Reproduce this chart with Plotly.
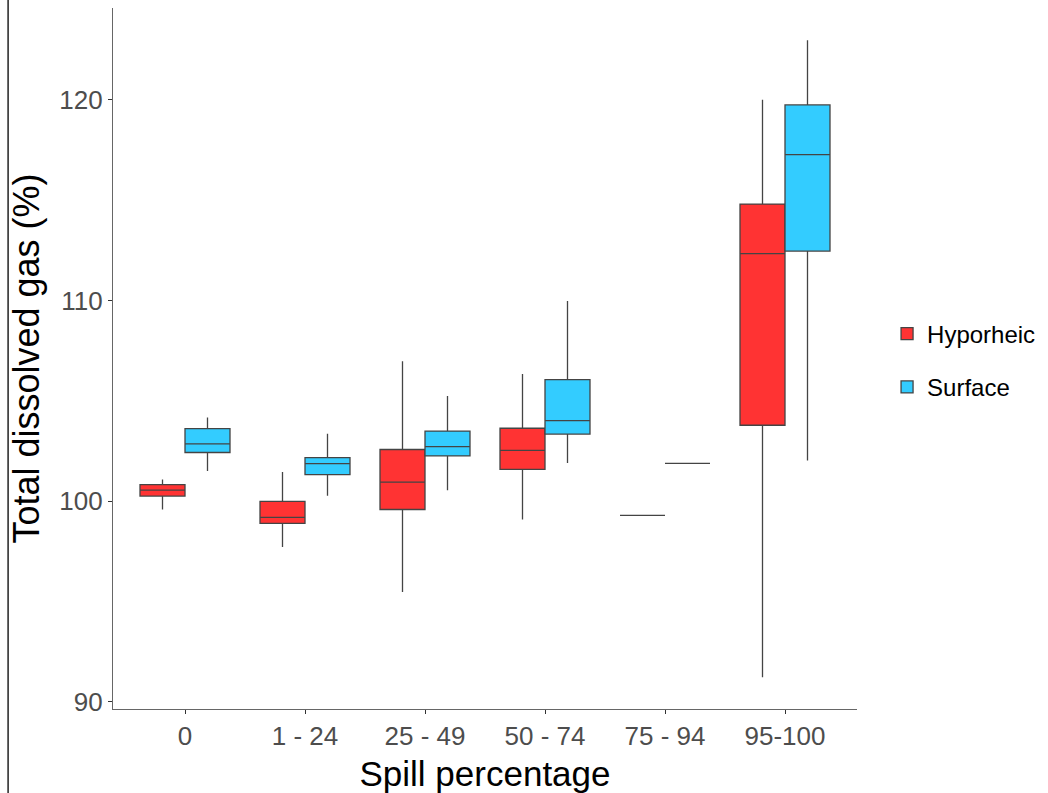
import plotly.graph_objects as go

categories = ["0", "1 - 24", "25 - 49", "50 - 74", "75 - 94", "95-100"]

hyp_low = [99.59, 97.72, 95.48, 99.09, 99.30, 91.23]
hyp_q1 = [100.26, 98.90, 99.59, 101.59, 99.30, 103.79]
hyp_med = [100.56, 99.20, 100.95, 102.54, 99.30, 112.34]
hyp_q3 = [100.83, 100.00, 102.58, 103.64, 99.30, 114.81]
hyp_up = [101.08, 101.46, 106.98, 106.34, 99.30, 120.01]

sur_low = [101.51, 100.28, 100.55, 101.91, 101.89, 102.03]
sur_q1 = [102.43, 101.33, 102.26, 103.35, 101.89, 112.47]
sur_med = [102.86, 101.88, 102.72, 104.02, 101.89, 117.27]
sur_q3 = [103.62, 102.18, 103.50, 106.06, 101.89, 119.75]
sur_up = [104.17, 103.37, 105.25, 109.98, 101.89, 122.97]

y_ticks = [90, 100, 110, 120]

FONT = "Liberation Sans, Arial, sans-serif"
LINE = "#444444"

fig = go.Figure()
fig.add_trace(go.Box(
    name="Hyporheic", x=categories, q1=hyp_q1, median=hyp_med, q3=hyp_q3,
    lowerfence=hyp_low, upperfence=hyp_up, fillcolor="#FF3333",
    line=dict(color=LINE, width=1.3), whiskerwidth=0, boxpoints=False,
    legendgroup="h", offsetgroup="h", hoverinfo="skip",
))
fig.add_trace(go.Box(
    name="Surface", x=categories, q1=sur_q1, median=sur_med, q3=sur_q3,
    lowerfence=sur_low, upperfence=sur_up, fillcolor="#33CCFF",
    line=dict(color=LINE, width=1.3), whiskerwidth=0, boxpoints=False,
    legendgroup="s", offsetgroup="s", hoverinfo="skip",
))

fig.update_layout(
    width=1048, height=793,
    margin=dict(l=113, r=190, t=8, b=84),
    paper_bgcolor="white", plot_bgcolor="white",
    boxmode="group", boxgap=0.25, boxgroupgap=0,
    font=dict(family=FONT, color="#000000"),
    legend=dict(
        x=1.039, y=0.497, xanchor="left", yanchor="middle",
        font=dict(size=24, color="#000000", family=FONT),
        tracegroupgap=19, bgcolor="rgba(0,0,0,0)",
    ),
    xaxis=dict(
        type="category", categoryorder="array", categoryarray=categories,
        range=[-0.6, 5.6], showgrid=False, zeroline=False, automargin=False,
        showline=True, linecolor="#666666", linewidth=1.3,
        ticks="outside", ticklen=4, tickcolor="#333333",
        tickfont=dict(size=26, color="#4D4D4D", family=FONT),
        title=dict(text="Spill percentage", font=dict(size=35, color="#000000", family=FONT), standoff=11),
    ),
    yaxis=dict(
        range=[89.65, 124.58], tickvals=y_ticks, showgrid=False, zeroline=False, automargin=False,
        showline=True, linecolor="#666666", linewidth=1.3,
        ticks="outside", ticklen=4, tickcolor="#333333",
        tickfont=dict(size=26, color="#4D4D4D", family=FONT),
        title=dict(text="Total dissolved gas (%)", font=dict(size=36, color="#000000", family=FONT), standoff=8),
    ),
    shapes=[dict(type="line", xref="paper", yref="paper",
                 x0=-0.141, x1=-0.141, y0=-0.13, y1=1.02,
                 line=dict(color="#222222", width=1.5))],
)

fig.write_html("out.html")
